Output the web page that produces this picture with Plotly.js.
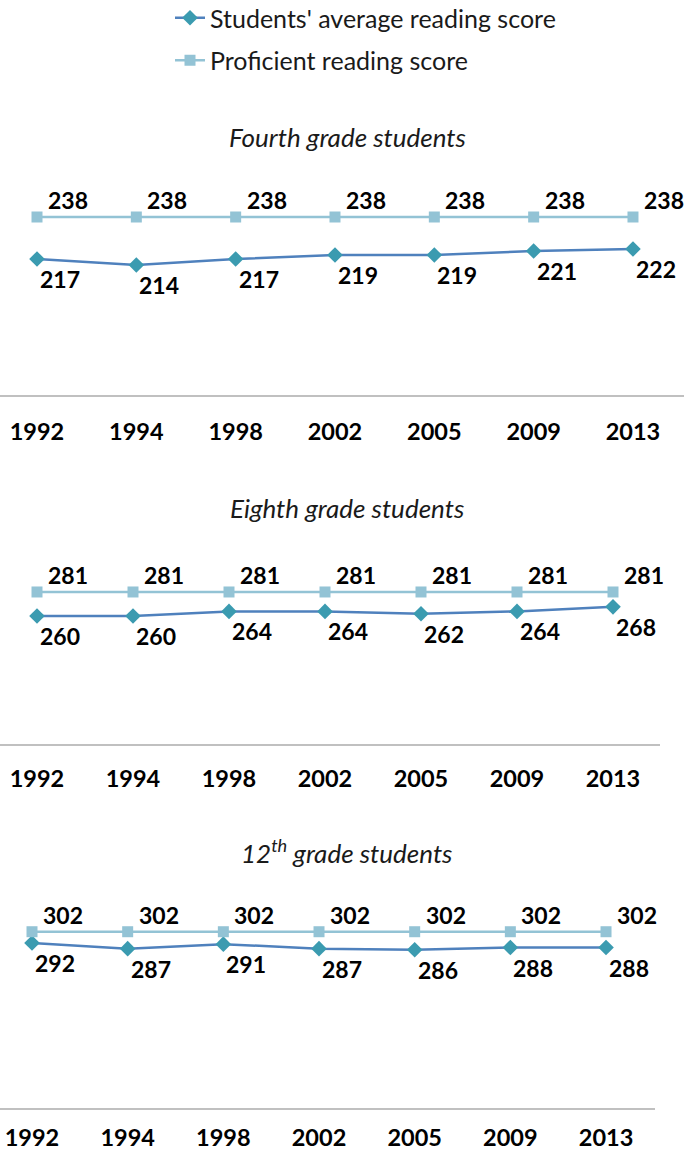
<!DOCTYPE html>
<html>
<head>
<meta charset="utf-8">
<script src="https://cdn.plot.ly/plotly-3.0.1.min.js"></script>
<style>html,body{margin:0;padding:0;background:#fff;}#chart{width:684px;height:1153px;}</style>
</head>
<body>
<div id="chart"></div>
<script>
// ---- data ----
const years = ["1992", "1994", "1998", "2002", "2005", "2009", "2013"];
const seriesNames = ["Students' average reading score", "Proficient reading score"];
const panelTitles = ["<i>Fourth grade students</i>", "<i>Eighth grade students</i>", "<i>12<sup>th</sup> grade students</i>"];
const avgFourth = [217, 214, 217, 219, 219, 221, 222];
const profFourth = [238, 238, 238, 238, 238, 238, 238];
const avgEighth = [260, 260, 264, 264, 262, 264, 268];
const profEighth = [281, 281, 281, 281, 281, 281, 281];
const avgTwelfth = [292, 287, 291, 287, 286, 288, 288];
const profTwelfth = [302, 302, 302, 302, 302, 302, 302];

// ---- layout geometry (pixels) ----
const W = 684, H = 1153;
const FONT = "Lato, 'Open Sans', sans-serif";
const panels = [
  {avg: avgFourth, prof: profFourth, top: 190, bot: 395, lo: 149, ppu: 2.0, x0: 37, step: 99.33, xEnd: 684, titleY: 137, tl: 15},
  {avg: avgEighth, prof: profEighth, top: 560, bot: 744, lo: 148, ppu: 1.143, x0: 37, step: 96, xEnd: 660, titleY: 508, tl: 13},
  {avg: avgTwelfth, prof: profTwelfth, top: 900, bot: 1108, lo: 146, ppu: 1.13, x0: 32, step: 95.67, xEnd: 655, titleY: 851, tl: 8}
];

const AVG_LINE = "#4f81bd", AVG_MARK = "#3b9bb0", PROF = "#93c3d5";

const traces = [];
const annotations = [];
const layout = {
  width: W, height: H,
  margin: {l: 0, r: 0, t: 0, b: 0, autoexpand: false},
  paper_bgcolor: "#fff", plot_bgcolor: "rgba(0,0,0,0)",
  font: {family: FONT, color: "#000"},
  showlegend: true,
  legend: {
    x: 170 / W, y: 1 + 5 / H, xanchor: "left", yanchor: "top",
    orientation: "v", traceorder: "grouped", tracegroupgap: 7,
    font: {family: FONT, size: 25, color: "#1a1a1a"},
    bgcolor: "rgba(0,0,0,0)", borderwidth: 0
  },
  hovermode: false
};

panels.forEach((p, i) => {
  const n = i + 1;
  const xa = "x" + (n === 1 ? "" : n), ya = "y" + (n === 1 ? "" : n);
  const xKey = "xaxis" + (n === 1 ? "" : n), yKey = "yaxis" + (n === 1 ? "" : n);
  const hi = p.lo + (p.bot - p.top) / p.ppu;
  layout[xKey] = {
    type: "category", domain: [0, p.xEnd / W],
    range: [-p.x0 / p.step, (p.xEnd - p.x0) / p.step],
    anchor: ya, showgrid: false, zeroline: false,
    showline: true, linecolor: "#c0c0c0", linewidth: 1.5,
    ticks: "outside", ticklen: p.tl, tickcolor: "rgba(0,0,0,0)",
    tickfont: {family: FONT, size: 23.5, color: "#000", weight: "bold"},
    fixedrange: true
  };
  layout[yKey] = {
    domain: [1 - p.bot / H, 1 - p.top / H], range: [p.lo, hi],
    anchor: xa, showgrid: false, zeroline: false, showline: false,
    showticklabels: false, ticks: "", fixedrange: true
  };
  traces.push({
    type: "scatter", mode: "lines+markers", name: seriesNames[0],
    x: years, y: p.avg, xaxis: xa, yaxis: ya,
    legendgroup: "avg", showlegend: i === 0, cliponaxis: false,
    line: {color: AVG_LINE, width: 2.5},
    marker: {symbol: "diamond", size: 12, color: AVG_MARK}
  });
  traces.push({
    type: "scatter", mode: "lines+markers", name: seriesNames[1],
    x: years, y: p.prof, xaxis: xa, yaxis: ya,
    legendgroup: "prof", showlegend: i === 0, cliponaxis: false,
    line: {color: PROF, width: 2.5},
    marker: {symbol: "square", size: 11, color: PROF}
  });
  years.forEach((yr, k) => {
    annotations.push({
      xref: xa, yref: ya, x: k, y: p.prof[k], text: String(p.prof[k]),
      showarrow: false, xanchor: "center", yanchor: "middle",
      xshift: 31, yshift: 17,
      font: {family: FONT, size: 23, color: "#000", weight: "bold"}
    });
    annotations.push({
      xref: xa, yref: ya, x: k, y: p.avg[k], text: String(p.avg[k]),
      showarrow: false, xanchor: "center", yanchor: "middle",
      xshift: 23, yshift: -20,
      font: {family: FONT, size: 23, color: "#000", weight: "bold"}
    });
  });
  annotations.push({
    xref: "paper", yref: "paper", x: 347 / W, y: 1 - p.titleY / H,
    text: panelTitles[i], showarrow: false, xanchor: "center", yanchor: "middle",
    font: {family: FONT, size: 26, color: "#1a1a1a"}
  });
});

layout.annotations = annotations;
Plotly.newPlot("chart", traces, layout, {displayModeBar: false, staticPlot: true});
</script>
</body>
</html>
